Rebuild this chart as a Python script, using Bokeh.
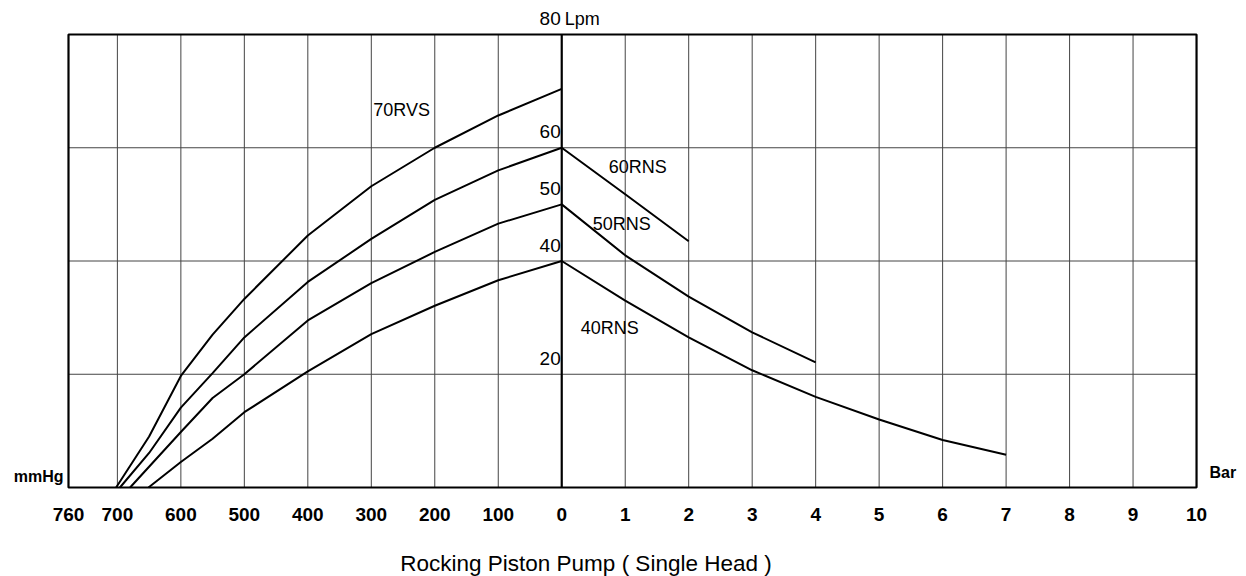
from bokeh.plotting import figure
from bokeh.models import Range1d
from bokeh.core.properties import value
from bokeh.embed import file_html
from bokeh.resources import INLINE

# ---------------- data ----------------
# vacuum side (mmHg) -> flow (Lpm)
rvs70_mmhg = [0, 100, 200, 300, 400, 500, 550, 600, 650, 702]
rvs70_lpm = [70.4, 65.7, 60.0, 53.2, 44.5, 33.3, 27.0, 19.7, 9.0, 0]

rns60_mmhg = [0, 100, 200, 300, 400, 500, 550, 600, 650, 696]
rns60_lpm = [60.0, 56.0, 50.8, 43.9, 36.3, 26.5, 20.2, 14.1, 6.1, 0]

rns50_mmhg = [0, 100, 200, 300, 400, 500, 550, 600, 680]
rns50_lpm = [50.0, 46.6, 41.6, 36.1, 29.5, 20.0, 15.8, 9.8, 0]

rns40_mmhg = [0, 100, 200, 300, 400, 500, 550, 600, 651]
rns40_lpm = [40.0, 36.6, 32.1, 27.1, 20.5, 13.3, 8.6, 4.5, 0]

# pressure side (Bar) -> flow (Lpm)
rns60_bar = [0, 1, 2]
rns60_bar_lpm = [60.0, 51.8, 43.5]

rns50_bar = [0, 1, 2, 3, 4]
rns50_bar_lpm = [50.0, 41.0, 33.7, 27.4, 22.1]

rns40_bar = [0, 1, 2, 3, 4, 5, 6, 7]
rns40_bar_lpm = [40.0, 33.0, 26.5, 20.7, 16.0, 12.0, 8.4, 5.8]

mmhg_ticks = [760, 700, 600, 500, 400, 300, 200, 100]
bar_ticks = [0, 1, 2, 3, 4, 5, 6, 7, 8, 9, 10]
lpm_labels = [80, 60, 50, 40, 20]
lpm_grid = [20, 40, 60]
lpm_max = 80

curve_names = ["70RVS", "60RNS", "50RNS", "40RNS"]
curve_label_x = [-2.97, 0.74, 0.49, 0.30]
curve_label_y = [66.6, 56.6, 46.6, 28.2]

title_text = "Rocking Piston Pump ( Single Head )"

# ---------------- layout ----------------
W, H = 1246, 576
X_LEFT, X_RIGHT = -7.77, 10          # frame edges (left edge is labelled 760 mmHg)
PX_X = 63.48                          # pixels per unit on x
PX_Y = 5.6625                         # pixels per Lpm
FRAME_L, FRAME_B = 68, 487            # frame position on the canvas
FONT = value("Liberation Sans")

x0 = X_LEFT - FRAME_L / PX_X
y0 = -(H - FRAME_B) / PX_Y

p = figure(width=W, height=H, output_backend="svg", toolbar_location=None,
           x_range=Range1d(x0, x0 + W / PX_X), y_range=Range1d(y0, y0 + H / PX_Y),
           min_border=0, min_border_left=0, min_border_right=0,
           min_border_top=0, min_border_bottom=0)
p.outline_line_color = None
p.xaxis.visible = False
p.yaxis.visible = False
p.grid.visible = False
p.background_fill_color = "white"
p.border_fill_color = "white"


def mm(vals):
    return [-v / 100.0 for v in vals]


tick_pos = [X_LEFT] + mm(mmhg_ticks[1:]) + list(bar_ticks)
tick_lab = [str(v) for v in mmhg_ticks] + [str(v) for v in bar_ticks]

# grid
inner = [t for t in tick_pos if X_LEFT < t < X_RIGHT and t != 0]
p.segment(x0=inner, y0=[0] * len(inner), x1=inner, y1=[lpm_max] * len(inner),
          line_color="#444444", line_width=1)
p.segment(x0=[X_LEFT] * len(lpm_grid), y0=lpm_grid, x1=[X_RIGHT] * len(lpm_grid),
          y1=lpm_grid, line_color="#444444", line_width=1)

# frame and centre line
p.quad(left=[X_LEFT], right=[X_RIGHT], bottom=[0], top=[lpm_max], fill_color=None,
       line_color="black", line_width=2.2)
p.segment(x0=[0], y0=[0], x1=[0], y1=[lpm_max], line_color="black", line_width=2.2)

# curves
lw = 2
for xs, ys in [(mm(rvs70_mmhg), rvs70_lpm), (mm(rns60_mmhg), rns60_lpm),
               (mm(rns50_mmhg), rns50_lpm), (mm(rns40_mmhg), rns40_lpm),
               (rns60_bar, rns60_bar_lpm), (rns50_bar, rns50_bar_lpm),
               (rns40_bar, rns40_bar_lpm)]:
    p.line(xs, ys, line_color="black", line_width=lw)

# x tick labels
p.text(x=tick_pos, y=[0] * len(tick_pos), text=tick_lab, text_align="center",
       text_baseline="alphabetic", y_offset=27, text_font=FONT,
       text_font_size="19px", text_font_style="bold", text_color="black")

# flow values along the centre line
p.text(x=[0] * len(lpm_labels), y=lpm_labels, text=[str(v) for v in lpm_labels],
       text_align="right", text_baseline="alphabetic", x_offset=-1, y_offset=-16,
       text_font=FONT, text_font_size="19px", text_color="black")
p.text(x=[0], y=[lpm_max], text=["Lpm"], text_align="left", text_baseline="alphabetic",
       x_offset=3, y_offset=-16, text_font=FONT, text_font_size="18px", text_color="black")

# curve labels
p.text(x=curve_label_x, y=curve_label_y, text=curve_names, text_align="left",
       text_baseline="alphabetic", text_font=FONT, text_font_size="18px",
       text_color="black")

# unit labels
p.text(x=[X_LEFT], y=[0], text=["mmHg"], text_align="right", text_baseline="alphabetic",
       x_offset=-5, y_offset=-11, text_font=FONT, text_font_size="16px",
       text_font_style="bold", text_color="black")
p.text(x=[X_RIGHT], y=[0], text=["Bar"], text_align="left", text_baseline="alphabetic",
       x_offset=13, y_offset=-15, text_font=FONT, text_font_size="16px",
       text_font_style="bold", text_color="black")

# caption
p.text(x=[0.382], y=[0], text=[title_text], text_align="center",
       text_baseline="alphabetic", y_offset=76, text_font=FONT,
       text_font_size="22.5px", text_color="black")

open("out.html", "w").write(file_html(p, INLINE))
